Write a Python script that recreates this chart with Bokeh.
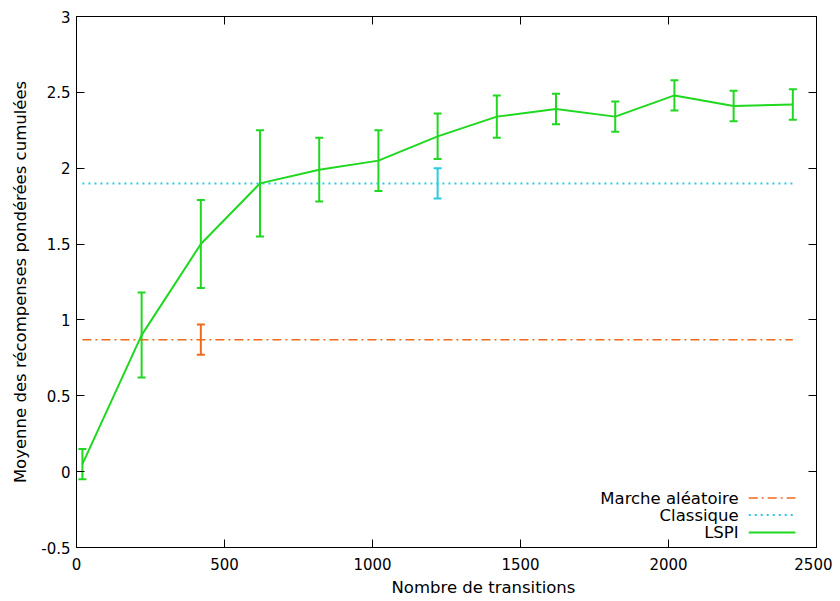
from bokeh.plotting import figure
from bokeh.models import (Range1d, ColumnDataSource, Whisker, TeeHead, LinearAxis,
                          FixedTicker, Label, Arrow, Title)
from bokeh.embed import file_html
from bokeh.resources import INLINE

# ---------------- data ----------------
transitions = [20, 220, 420, 620, 820, 1020, 1220, 1420, 1620, 1820, 2020, 2220, 2420]
lspi_mean = [0.05, 0.90, 1.50, 1.90, 1.99, 2.05, 2.21, 2.34, 2.39, 2.34, 2.48, 2.41, 2.42]
lspi_err = [0.10, 0.28, 0.29, 0.35, 0.21, 0.20, 0.15, 0.14, 0.10, 0.10, 0.10, 0.10, 0.10]
classique_mean = [1.90] * 13
classique_err_x = [1220]
classique_err = [0.10]
marche_mean = [0.87] * 13
marche_err_x = [420]
marche_err = [0.10]

x_ticks = [0, 500, 1000, 1500, 2000, 2500]
y_ticks = [-0.5, 0, 0.5, 1, 1.5, 2, 2.5, 3]
y_tick_labels = ["-0.5", "0", "0.5", "1", "1.5", "2", "2.5", "3"]

names = ["Marche aléatoire", "Classique", "LSPI"]
x_title = "Nombre de transitions"
y_title = "Moyenne des récompenses pondérées cumulées"

# ---------------- style ----------------
FONT = "DejaVu Sans"
FS_TICK = "15px"
FS_TEXT = "16.5px"
C_ORANGE = "#ee6a1c"
C_CYAN = "#2acbe0"
C_GREEN = "#1fd81f"

p = figure(frame_width=740, frame_height=531,
           min_border_left=76, min_border_right=16, min_border_top=16, min_border_bottom=54,
           x_range=Range1d(0, 2500), y_range=Range1d(-0.5, 3),
           output_backend="svg", toolbar_location=None,
           y_axis_label=y_title)
p.grid.visible = False
p.outline_line_color = "black"
p.outline_line_width = 1
p.background_fill_color = "white"
p.border_fill_color = "white"

for ax in (p.xaxis[0], p.yaxis[0]):
    ax.major_tick_in = 8
    ax.major_tick_out = 0
    ax.minor_tick_line_color = None
    ax.major_label_text_font = FONT
    ax.major_label_text_font_size = FS_TICK
    ax.major_label_text_color = "black"
    ax.axis_label_text_font = FONT
    ax.axis_label_text_font_size = FS_TEXT
    ax.axis_label_text_font_style = "normal"
    ax.axis_label_text_color = "black"
    ax.axis_line_color = "black"
    ax.major_tick_line_color = "black"

p.xaxis[0].ticker = FixedTicker(ticks=x_ticks)
p.yaxis[0].ticker = FixedTicker(ticks=y_ticks)
p.yaxis[0].major_label_overrides = {t: l for t, l in zip(y_ticks, y_tick_labels)}
p.xaxis[0].major_label_standoff = 10
p.yaxis[0].major_label_standoff = 6
p.yaxis[0].axis_label_standoff = 8

# x title placed like gnuplot (slightly right of the frame centre)
p.add_layout(Title(text=x_title, align="left", offset=315, text_font=FONT,
                   text_font_size=FS_TEXT, text_font_style="normal",
                   text_color="black", standoff=6), "below")

# mirror ticks (top and right), without labels
top = LinearAxis(ticker=FixedTicker(ticks=x_ticks), major_tick_in=8, major_tick_out=0,
                 minor_tick_line_color=None, major_label_standoff=0,
                 major_label_overrides={t: "" for t in x_ticks}, axis_line_color="black")
right = LinearAxis(ticker=FixedTicker(ticks=y_ticks), major_tick_in=8, major_tick_out=0,
                   minor_tick_line_color=None, major_label_standoff=0,
                   major_label_overrides={t: "" for t in y_ticks}, axis_line_color="black")
p.add_layout(top, "above")
p.add_layout(right, "right")

# ---------------- series ----------------
p.line(transitions, marche_mean, line_color=C_ORANGE, line_width=1.5, line_dash="9 4 2 4")
p.line(transitions, classique_mean, line_color=C_CYAN, line_width=2, line_dash="2 4")
p.line(transitions, lspi_mean, line_color=C_GREEN, line_width=2)


def add_errors(xs, means, errs, color):
    src = ColumnDataSource(dict(x=xs,
                                upper=[m + e for m, e in zip(means, errs)],
                                lower=[m - e for m, e in zip(means, errs)]))
    w = Whisker(base="x", upper="upper", lower="lower", source=src,
                line_color=color, line_width=2,
                upper_head=TeeHead(size=8, line_color=color, line_width=2),
                lower_head=TeeHead(size=8, line_color=color, line_width=2))
    p.add_layout(w)


add_errors(transitions, lspi_mean, lspi_err, C_GREEN)
m_lookup = dict(zip(transitions, marche_mean))
add_errors(marche_err_x, [m_lookup[x] for x in marche_err_x], marche_err, C_ORANGE)
c_lookup = dict(zip(transitions, classique_mean))
add_errors(classique_err_x, [c_lookup[x] for x in classique_err_x], classique_err, C_CYAN)

# ---------------- legend (gnuplot style: text left, sample right) ----------------
leg_text_x = 2237
leg_line_x0, leg_line_x1 = 2271, 2429
leg_rows_y = [-0.174, -0.286, -0.401]
leg_styles = [(C_ORANGE, "9 4 2 4", 1.5), (C_CYAN, "2 4", 2), (C_GREEN, "solid", 2)]
for name, yy, (col, dash, lw) in zip(names, leg_rows_y, leg_styles):
    p.add_layout(Label(x=leg_text_x, y=yy, text=name, text_align="right",
                       text_baseline="middle", text_font=FONT, text_font_size=FS_TEXT,
                       text_color="black"))
    p.add_layout(Arrow(x_start=leg_line_x0, y_start=yy, x_end=leg_line_x1, y_end=yy,
                       end=None, line_color=col, line_dash=dash, line_width=lw))

open("out.html", "w").write(file_html(p, INLINE))
